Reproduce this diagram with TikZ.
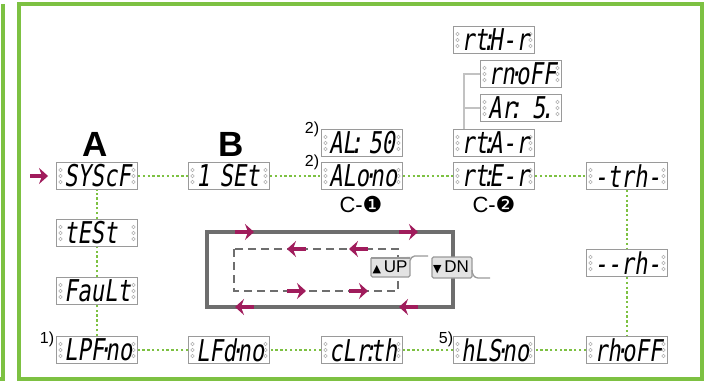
\documentclass[tikz,border=0pt]{standalone}
\usepackage{fontspec}
\setmainfont{Liberation Sans}
\newfontfamily\segfont[FakeSlant=0.15,FakeStretch=0.74]{DejaVu Sans Mono}
\newfontfamily\dingfont{DejaVu Sans}
\usepackage{tikz}
\usetikzlibrary{arrows.meta}

\definecolor{framegreen}{HTML}{7DC142}
\definecolor{boxgray}{HTML}{9A9A9A}
\definecolor{loopgray}{HTML}{6E6E6E}
\definecolor{bracketgray}{HTML}{C2C2C2}
\definecolor{maroon}{HTML}{A01C5C}
\definecolor{keyfill}{HTML}{E3E3E3}

\newcommand{\tdot}{\kern-0.2em·\kern-0.2em}
\newcommand{\tcol}{\kern-0.2em:\kern-0.2em}
\newcommand{\segstyle}{\segfont\fontsize{30}{30}\selectfont
    \hyphenpenalty=10000\relax\exhyphenpenalty=10000\relax}

\begin{document}
\begin{tikzpicture}[x=1pt,y=-1pt, % one unit is one pixel of the original
    disp/.style={draw=boxgray,line width=0.9pt,fill=white,minimum width=81pt,minimum height=27pt,
        inner sep=0pt,text width=66pt,align=left,font=\segstyle,
        path picture={
            \foreach \dy in {-6,0,6} {
                \draw[boxgray!80,line width=0.5pt] ([xshift=4pt,yshift=\dy pt]path picture bounding box.west) circle (1.7pt);
                \draw[boxgray!80,line width=0.5pt] ([xshift=-4pt,yshift=\dy pt]path picture bounding box.east) circle (1.7pt);
            }}},
    link/.style={draw=framegreen,line width=2.6pt,dash pattern=on 2.4pt off 2.4pt},
    bracket/.style={draw=bracketgray,line width=2.6pt},
    loopline/.style={draw=loopgray,line width=3.2pt},
    loopdash/.style={draw=loopgray,line width=2.8pt,dash pattern=on 8pt off 5pt},
    flow/.style={draw=maroon,line width=4.2pt,-{Stealth[length=9pt,width=16pt,inset=3pt]}},
    keyshape/.style={draw=boxgray,line width=1.3pt,fill=keyfill,rounded corners=1.5pt},
    note/.style={font=\fontsize{16}{16}\selectfont,inner sep=0pt},
    big/.style={font=\bfseries\fontsize{35}{35}\selectfont,inner sep=0pt}]
    \useasboundingbox (0,0) rectangle (716,383);

    % frames
    \draw[framegreen,line width=3.6pt] (3,4) -- (3,379) -- (-2,379);
    \draw[framegreen,line width=3.6pt] (19,4) rectangle (702,379);

    % displays
    \node[disp] (syscf) at (97,176) {SYScF};
    \node[disp] (iset) at (229,176) {1 SEt};
    \node[disp] (alno) at (362,176) {ALo\tdot no};
    \node[disp] (alfifty) at (362,143) {AL\tcol\hfill 50};
    \node[disp] (rter) at (494,176) {rt\tcol E-r};
    \node[disp] (rtar) at (494,143) {rt\tcol A-r};
    \node[disp] (rthr) at (494,40) {rt\tcol H-r};
    \node[disp] (rnoff) at (521,74) {rn\tdot oFF};
    \node[disp] (arfive) at (521,108) {Ar\tcol\hfill 5\kern-0.15em.};
    \node[disp] (trh) at (627,176) {-trh-};
    \node[disp] (rh) at (627,263) {--rh-};
    \node[disp] (rhoff) at (627,350) {rh\tdot oFF};
    \node[disp] (hlsno) at (494,350) {hLS\tdot no};
    \node[disp] (clrth) at (362,350) {cLr\tcol th};
    \node[disp] (lfdno) at (229,350) {LFd\tdot no};
    \node[disp] (lpfno) at (97,350) {LPF\tdot no};
    \node[disp] (test) at (97,233) {tESt};
    \node[disp] (fault) at (97,291) {FauLt};

    % green links
    \draw[link] (syscf) -- (iset);
    \draw[link] (iset) -- (alno);
    \draw[link] (alno) -- (rter);
    \draw[link] (rter) -- (trh);
    \draw[link] (trh) -- (rh);
    \draw[link] (rh) -- (rhoff);
    \draw[link] (rhoff) -- (hlsno);
    \draw[link] (hlsno) -- (clrth);
    \draw[link] (clrth) -- (lfdno);
    \draw[link] (lfdno) -- (lpfno);
    \draw[link] (lpfno) -- (fault);
    \draw[link] (fault) -- (test);
    \draw[link] (test) -- (syscf);

    % gray bracket
    \draw[bracket] ([xshift=-16pt]rnoff.west |- rtar.north) |- (rnoff.west);
    \draw[bracket] ([xshift=-16pt]arfive.west) -- (arfive.west);

    % entry arrow
    \coordinate (entry) at (30,176);
    \draw[flow] (entry) -- ([xshift=-8pt]syscf.west);

    % labels
    \node[big] (labela) at (95,144) {A};
    \node[big] (labelb) at (231,144) {B};
    \node[font=\fontsize{22}{22}\selectfont,inner sep=0pt] (cone) at (361,204) {C-{\dingfont ❶}};
    \node[font=\fontsize{22}{22}\selectfont,inner sep=0pt] (ctwo) at (494,204) {C-{\dingfont ❷}};
    \node[note] (fn2a) at (312,129) {2)};
    \node[note] (fn2b) at (312,162) {2)};
    \node[note] (fn1) at (47,339) {1)};
    \node[note] (fn5) at (446,339) {5)};

    % key loop
    \draw[loopline] (207,232) rectangle (453,307);
    \draw[loopdash] (234,249) rectangle (398,291);
    \foreach \x in {235,399} {
        \draw[flow] (\x,232) -- ++(19,0);
        \draw[flow] (\x+19,307) -- ++(-19,0);
    }
    \foreach \x in {287,349} {
        \draw[flow] (\x+19,249) -- ++(-19,0);
        \draw[flow] (\x,291) -- ++(19,0);
    }

    % keys
    \draw[keyshape] (371,258) -- (371,277) -- (410,277) -- (410,262) to[out=90,in=180] (416,256) -- (428,256);
    \draw[keyshape] (410,258) -- (371,258);
    \node[font=\fontsize{17}{17}\selectfont,inner sep=0pt] (up) at (390,267) {{\dingfont\fontsize{11}{11}\selectfont ▲}\,UP};
    \draw[keyshape] (432,257) rectangle (472,278);
    \draw[draw=boxgray,line width=1.3pt] (472,270) to[out=270,in=180] (478,278) -- (490,278);
    \node[font=\fontsize{17}{17}\selectfont,inner sep=0pt] (dn) at (451,267) {{\dingfont\fontsize{11}{11}\selectfont ▼}\,DN};
\end{tikzpicture}
\end{document}
